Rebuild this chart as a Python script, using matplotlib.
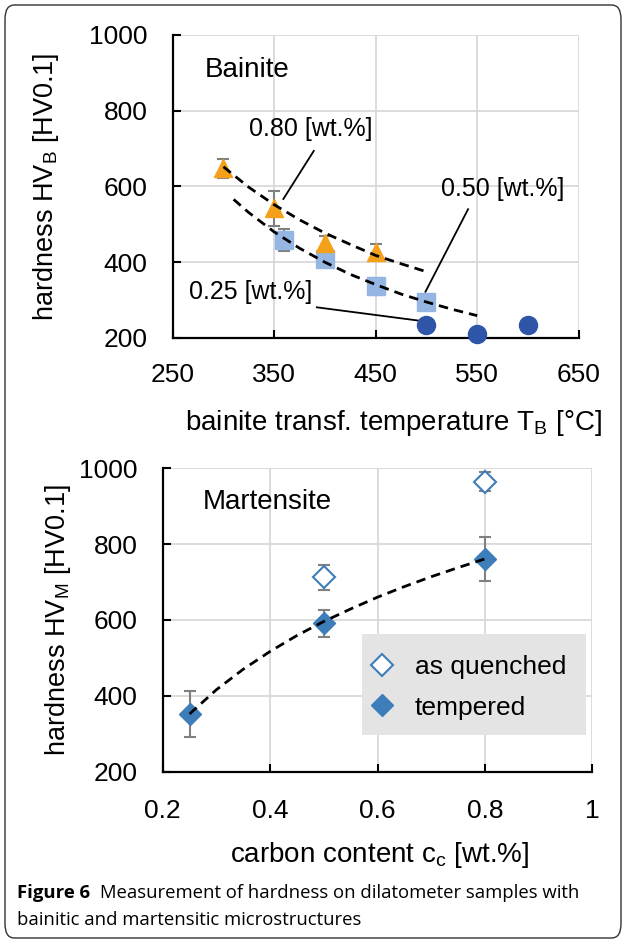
import matplotlib
matplotlib.use("Agg")
import matplotlib.pyplot as plt
from matplotlib.patches import FancyBboxPatch, Rectangle

plt.rcParams['font.family'] = ['Liberation Sans', 'DejaVu Sans']
plt.rcParams['mathtext.fontset'] = 'custom'
plt.rcParams['mathtext.rm'] = 'Liberation Sans'

# ---- bainite data (temperature in degC, hardness HV0.1) ----
t080 = [300, 350, 400, 450]
hv080 = [648, 542, 450, 428]
err080 = [25, 45, 18, 20]

t050 = [360, 400, 450, 500]
hv050 = [459, 408, 336, 296]
err050 = [29, 12, 23, 10]

t025 = [500, 550, 600]
hv025 = [234, 211, 234]

# trend lines
trend080_t = [300, 325, 350, 375, 400, 425, 450, 475, 500]
trend080_hv = [652, 598, 552, 512, 477, 447, 418, 396, 375]
trend050_t = [310, 325, 350, 375, 400, 425, 450, 475, 500, 525, 550]
trend050_hv = [566, 531, 480, 437, 400, 368, 341, 316, 295, 276, 259]

# ---- martensite data (carbon wt.%, hardness HV0.1) ----
c_q = [0.5, 0.8]
hv_q = [712, 965]
err_q = [32, 26]

c_t = [0.25, 0.5, 0.8]
hv_t = [352, 591, 761]
err_t = [60, 35, 57]

trendm_c = [0.25, 0.3, 0.35, 0.4, 0.45, 0.5, 0.55, 0.6, 0.65, 0.7, 0.75, 0.8]
trendm_hv = [352, 416, 470, 517, 559, 596, 629, 660, 688, 714, 738, 761]

ORANGE = '#F5A01A'
LIGHTBLUE = '#95B5E3'
DARKBLUE = '#2F55A8'
STEEL = '#3C7DBA'
ERRC = '#808080'
GRIDC = '#D9D9D9'
DASH = (3.4, 2.2)

W, H = 624, 942
fig = plt.figure(figsize=(W / 100, H / 100), dpi=100)


def style_axes(ax):
    for s in ['top', 'right']:
        ax.spines[s].set_visible(False)
    for s in ['left', 'bottom']:
        ax.spines[s].set_linewidth(1.6)
        ax.spines[s].set_zorder(5)
    ax.grid(True, color=GRIDC, linewidth=1.3, zorder=0)
    ax.set_axisbelow(True)
    ax.tick_params(direction='in', length=6, width=1.5, labelsize=19)
    ax.tick_params(axis='y', pad=18)
    ax.tick_params(axis='x', pad=18)


# ================= top: bainite =================
ax1 = fig.add_axes([172.7 / W, 1 - 338 / H, 406 / W, 303 / H])
style_axes(ax1)
ax1.set_xlim(250, 650)
ax1.set_ylim(200, 1000)
ax1.set_xticks([250, 350, 450, 550, 650])
ax1.set_yticks([200, 400, 600, 800, 1000])

ax1.plot(trend080_t, trend080_hv, color='black', lw=2.0, dashes=DASH, zorder=4)
ax1.plot(trend050_t, trend050_hv, color='black', lw=2.0, dashes=DASH, zorder=4)

ax1.errorbar(t050, hv050, yerr=err050, fmt='s', ms=12.5, color=LIGHTBLUE,
             ecolor=ERRC, elinewidth=1.5, capsize=4.5, capthick=1.5, zorder=3)
ax1.errorbar(t080, hv080, yerr=err080, fmt='^', ms=13.5, color=ORANGE,
             ecolor=ERRC, elinewidth=1.5, capsize=4.5, capthick=1.5, zorder=3)
ax1.plot(t025, hv025, 'o', ms=13, color=DARKBLUE, clip_on=False, zorder=6)

ax1.text(282, 908, 'Bainite', fontsize=20, ha='left', va='center')
ax1.text(386, 752, '0.80 [wt.%]', fontsize=18, ha='center', va='center')
ax1.plot([389, 359], [694, 567], color='black', lw=1.3)
ax1.text(575, 593, '0.50 [wt.%]', fontsize=18, ha='center', va='center')
ax1.plot([541, 499], [540, 322], color='black', lw=1.3)
ax1.text(327, 322, '0.25 [wt.%]', fontsize=18, ha='center', va='center')
ax1.plot([392, 495], [281, 245], color='black', lw=1.3)

ax1.set_xlabel(r'bainite transf. temperature T$_\mathregular{B}$ [°C]', fontsize=20)
ax1.xaxis.set_label_coords(0.543, -0.281)
ax1.xaxis.label.set_va('center')
ax1.set_ylabel(r'hardness HV$_\mathregular{B}$ [HV0.1]', fontsize=19.5)
ax1.yaxis.set_label_coords(-0.311, 0.5)
ax1.yaxis.label.set_va('center')

# ================= bottom: martensite =================
ax2 = fig.add_axes([162.7 / W, 1 - 771.6 / H, 429.6 / W, 303.3 / H])
style_axes(ax2)
ax2.set_xlim(0.2, 1.0)
ax2.set_ylim(200, 1000)
ax2.set_xticks([0.2, 0.4, 0.6, 0.8, 1.0])
ax2.set_xticklabels(['0.2', '0.4', '0.6', '0.8', '1'])
ax2.set_yticks([200, 400, 600, 800, 1000])
ax2.tick_params(axis='x', pad=20)

ax2.plot(trendm_c, trendm_hv, color='black', lw=2.0, dashes=DASH, zorder=4)
ax2.errorbar(c_q, hv_q, yerr=err_q, fmt='D', ms=11, mfc='white', mec=STEEL, mew=1.5,
             ecolor=ERRC, elinewidth=1.5, capsize=4.5, capthick=1.5, zorder=3,
             label='as quenched')
ax2.errorbar(c_t, hv_t, yerr=err_t, fmt='D', ms=11, color=STEEL,
             ecolor=ERRC, elinewidth=1.5, capsize=4.5, capthick=1.5, zorder=3,
             label='tempered')

ax2.text(0.275, 911, 'Martensite', fontsize=20, ha='left', va='center')

# legend: grey box drawn separately, legend itself frameless
ax2.add_patch(Rectangle((0.5706, 296), 0.4181, 266.7, facecolor='#E4E4E4',
                        edgecolor='none', zorder=5))
h, l = ax2.get_legend_handles_labels()
h = [hh[0] for hh in h]
leg = ax2.legend(h, l, loc='center left', bbox_to_anchor=(0.4918, 0.2773),
                 borderaxespad=0, borderpad=0, fontsize=19, frameon=False,
                 handlelength=0.6, handletextpad=0.95, labelspacing=0.62)
leg.set_zorder(6)

ax2.set_xlabel(r'carbon content c$_\mathregular{c}$ [wt.%]', fontsize=20)
ax2.xaxis.set_label_coords(0.506, -0.275)
ax2.xaxis.label.set_va('center')
ax2.set_ylabel(r'hardness HV$_\mathregular{M}$ [HV0.1]', fontsize=19.5)
ax2.yaxis.set_label_coords(-0.2426, 0.5)
ax2.yaxis.label.set_va('center')

# ================= caption and frame =================
cap_font = ['Open Sans', 'DejaVu Sans']
fig.text(17 / W, 1 - 893 / H, 'Figure 6', fontsize=13.3, fontweight='bold',
         family=cap_font, ha='left', va='center')
fig.text(100 / W, 1 - 893 / H, 'Measurement of hardness on dilatometer samples with',
         fontsize=13.3, family=cap_font, ha='left', va='center')
fig.text(17 / W, 1 - 920 / H, 'bainitic and martensitic microstructures',
         fontsize=13.3, family=cap_font, ha='left', va='center')

frame = FancyBboxPatch((5 / W, 1 - 938 / H), 616 / W, 933 / H,
                       boxstyle='round,pad=0,rounding_size=0.015',
                       transform=fig.transFigure, fill=False,
                       edgecolor='#333333', linewidth=1.0)
fig.patches.append(frame)

fig.savefig('out.png', dpi=100)
